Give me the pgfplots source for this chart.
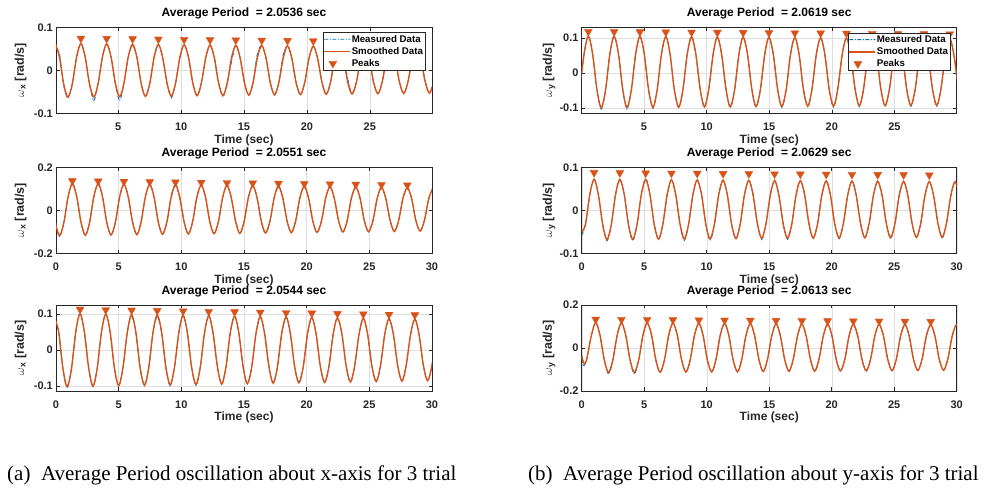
\documentclass[border=0pt]{standalone}
\usepackage{fontspec}
\setmainfont{Liberation Sans}
\newfontfamily\capfont{Liberation Serif}
\usepackage{pgfplots}
\usepackage{pgfplotstable}
\pgfplotsset{compat=1.18}
\definecolor{mblue}{rgb}{0,0.447,0.741}
\definecolor{morange}{rgb}{0.85,0.325,0.098}
\definecolor{mgray}{rgb}{0.15,0.15,0.15}

\pgfplotstableread{
t s m
-0.02 0.0630 0.0520
0.32 0.0315 0.0400
0.66 -0.0314 -0.0360
1.00 -0.0627 -0.0640
1.35 -0.0313 -0.0313
1.69 0.0312 0.0312
2.03 0.0623 0.0623
2.37 0.0311 0.0311
2.71 -0.0310 -0.0310
3.06 -0.0620 -0.0705
3.40 -0.0309 -0.0309
3.74 0.0308 0.0308
4.08 0.0617 0.0617
4.43 0.0308 0.0308
4.77 -0.0307 -0.0307
5.11 -0.0613 -0.0705
5.45 -0.0306 -0.0306
5.79 0.0305 0.0305
6.14 0.0610 0.0570
6.48 0.0305 0.0305
6.82 -0.0303 -0.0303
7.16 -0.0606 -0.0606
7.51 -0.0303 -0.0303
7.85 0.0302 0.0302
8.19 0.0603 0.0603
8.53 0.0301 0.0301
8.88 -0.0300 -0.0300
9.22 -0.0600 -0.0640
9.56 -0.0299 -0.0299
9.90 0.0298 0.0298
10.24 0.0596 0.0596
10.59 0.0298 0.0298
10.93 -0.0297 -0.0297
11.27 -0.0593 -0.0593
11.61 -0.0296 -0.0296
11.96 0.0295 0.0295
12.30 0.0589 0.0589
12.64 0.0294 0.0294
12.98 -0.0293 -0.0293
13.33 -0.0586 -0.0615
13.67 -0.0292 -0.0292
14.01 0.0292 0.0200
14.35 0.0583 0.0583
14.69 0.0291 0.0291
15.04 -0.0290 -0.0290
15.38 -0.0579 -0.0579
15.72 -0.0289 -0.0289
16.06 0.0288 0.0380
16.41 0.0576 0.0576
16.75 0.0288 0.0288
17.09 -0.0287 -0.0287
17.43 -0.0572 -0.0572
17.77 -0.0285 -0.0285
18.12 0.0285 0.0360
18.46 0.0569 0.0569
18.80 0.0284 0.0284
19.14 -0.0283 -0.0283
19.49 -0.0566 -0.0566
19.83 -0.0282 -0.0282
20.17 0.0281 0.0281
20.51 0.0562 0.0562
20.85 0.0281 0.0281
21.20 -0.0280 -0.0280
21.54 -0.0559 -0.0559
21.88 -0.0278 -0.0278
22.22 0.0278 0.0278
22.57 0.0556 0.0556
22.91 0.0277 0.0277
23.25 -0.0276 -0.0200
23.59 -0.0552 -0.0552
23.94 -0.0275 -0.0275
24.28 0.0274 0.0274
24.62 0.0549 0.0549
24.96 0.0274 0.0274
25.30 -0.0273 -0.0273
25.65 -0.0545 -0.0545
25.99 -0.0272 -0.0272
26.33 0.0271 0.0271
26.67 0.0542 0.0542
27.02 0.0271 0.0271
27.36 -0.0270 -0.0270
27.70 -0.0539 -0.0539
28.04 -0.0268 -0.0268
28.38 0.0268 0.0268
28.73 0.0535 0.0535
29.07 0.0267 0.0267
29.41 -0.0266 -0.0266
29.75 -0.0532 -0.0532
30.10 -0.0265 -0.0265
}\tabA

\pgfplotstableread{
t s m
-0.14 -0.0482 -0.0482
0.21 0.0542 0.0542
0.55 0.1054 0.1054
0.89 0.0541 0.0541
1.24 -0.0480 -0.0480
1.58 -0.0991 -0.1030
1.93 -0.0479 -0.0479
2.27 0.0540 0.0540
2.61 0.1048 0.1048
2.96 0.0538 0.0538
3.30 -0.0478 -0.0478
3.64 -0.0986 -0.1030
3.99 -0.0477 -0.0477
4.33 0.0537 0.0537
4.67 0.1043 0.1043
5.02 0.0536 0.0536
5.36 -0.0475 -0.0475
5.71 -0.0981 -0.1010
6.05 -0.0474 -0.0474
6.39 0.0534 0.0534
6.74 0.1038 0.1038
7.08 0.0533 0.0533
7.42 -0.0473 -0.0473
7.77 -0.0976 -0.1000
8.11 -0.0472 -0.0472
8.45 0.0532 0.0532
8.80 0.1033 0.1033
9.14 0.0531 0.0531
9.49 -0.0470 -0.0470
9.83 -0.0970 -0.0970
10.17 -0.0469 -0.0469
10.52 0.0529 0.0529
10.86 0.1028 0.1028
11.20 0.0528 0.0528
11.55 -0.0468 -0.0468
11.89 -0.0965 -0.0990
12.24 -0.0467 -0.0467
12.58 0.0527 0.0527
12.92 0.1023 0.1023
13.27 0.0526 0.0526
13.61 -0.0465 -0.0465
13.95 -0.0960 -0.0960
14.30 -0.0464 -0.0464
14.64 0.0524 0.0524
14.98 0.1018 0.1018
15.33 0.0523 0.0523
15.67 -0.0463 -0.0463
16.01 -0.0955 -0.0980
16.36 -0.0462 -0.0462
16.70 0.0522 0.0522
17.05 0.1012 0.1012
17.39 0.0521 0.0521
17.73 -0.0460 -0.0460
18.08 -0.0950 -0.0950
18.42 -0.0459 -0.0459
18.76 0.0519 0.0519
19.11 0.1007 0.1007
19.45 0.0518 0.0518
19.79 -0.0458 -0.0458
20.14 -0.0945 -0.0975
20.48 -0.0457 -0.0457
20.83 0.0517 0.0517
21.17 0.1002 0.1002
21.51 0.0516 0.0516
21.86 -0.0455 -0.0455
22.20 -0.0940 -0.0965
22.54 -0.0454 -0.0454
22.89 0.0514 0.0514
23.23 0.0997 0.0997
23.58 0.0513 0.0513
23.92 -0.0453 -0.0453
24.26 -0.0934 -0.0934
24.61 -0.0452 -0.0452
24.95 0.0512 0.0512
25.29 0.0992 0.0992
25.64 0.0511 0.0511
25.98 -0.0450 -0.0450
26.32 -0.0929 -0.0955
26.67 -0.0449 -0.0449
27.01 0.0509 0.0509
27.36 0.0987 0.0987
27.70 0.0508 0.0508
28.04 -0.0448 -0.0448
28.39 -0.0924 -0.0950
28.73 -0.0447 -0.0447
29.07 0.0507 0.0507
29.42 0.0981 0.0981
29.76 0.0506 0.0506
30.10 -0.0445 -0.0445
}\tabB

\pgfplotstableread{
t s m
-0.06 -0.0570 -0.0600
0.28 -0.1178 -0.1220
0.63 -0.0568 -0.0568
0.97 0.0648 0.0648
1.31 0.1250 0.1250
1.65 0.0645 0.0645
2.00 -0.0565 -0.0565
2.34 -0.1163 -0.1163
2.68 -0.0562 -0.0562
3.02 0.0642 0.0642
3.37 0.1235 0.1235
3.71 0.0638 0.0638
4.05 -0.0558 -0.0558
4.39 -0.1148 -0.1148
4.74 -0.0554 -0.0554
5.08 0.0634 0.0634
5.42 0.1220 0.1220
5.76 0.0630 0.0630
6.11 -0.0550 -0.0550
6.45 -0.1133 -0.1133
6.79 -0.0547 -0.0547
7.13 0.0627 0.0627
7.48 0.1205 0.1205
7.82 0.0623 0.0623
8.16 -0.0543 -0.0543
8.50 -0.1118 -0.1118
8.85 -0.0539 -0.0539
9.19 0.0619 0.0619
9.53 0.1190 0.1190
9.87 0.0615 0.0615
10.22 -0.0535 -0.0535
10.56 -0.1103 -0.1103
10.90 -0.0532 -0.0532
11.24 0.0612 0.0612
11.59 0.1175 0.1175
11.93 0.0608 0.0608
12.27 -0.0528 -0.0528
12.61 -0.1088 -0.1088
12.96 -0.0524 -0.0524
13.30 0.0604 0.0604
13.64 0.1160 0.1160
13.98 0.0600 0.0600
14.33 -0.0520 -0.0520
14.67 -0.1073 -0.1073
15.01 -0.0517 -0.0517
15.35 0.0597 0.0597
15.70 0.1145 0.1145
16.04 0.0593 0.0593
16.38 -0.0513 -0.0513
16.72 -0.1058 -0.1058
17.07 -0.0509 -0.0509
17.41 0.0589 0.0589
17.75 0.1130 0.1130
18.09 0.0585 0.0585
18.44 -0.0505 -0.0505
18.78 -0.1043 -0.1043
19.12 -0.0502 -0.0502
19.46 0.0582 0.0582
19.81 0.1115 0.1115
20.15 0.0578 0.0578
20.49 -0.0498 -0.0498
20.83 -0.1028 -0.1028
21.18 -0.0494 -0.0494
21.52 0.0574 0.0574
21.86 0.1100 0.1100
22.20 0.0570 0.0570
22.55 -0.0490 -0.0490
22.89 -0.1013 -0.1013
23.23 -0.0487 -0.0487
23.57 0.0567 0.0567
23.92 0.1085 0.1085
24.26 0.0563 0.0563
24.60 -0.0483 -0.0483
24.94 -0.0998 -0.0998
25.29 -0.0479 -0.0479
25.63 0.0559 0.0559
25.97 0.1070 0.1070
26.31 0.0555 0.0555
26.66 -0.0475 -0.0475
27.00 -0.0983 -0.0983
27.34 -0.0472 -0.0472
27.68 0.0552 0.0552
28.03 0.1055 0.1055
28.37 0.0548 0.0548
28.71 -0.0468 -0.0468
29.05 -0.0968 -0.0968
29.40 -0.0464 -0.0464
29.74 0.0544 0.0544
30.08 0.1040 0.1040
}\tabC

\pgfplotstableread{
t s m
0.00 -0.0500 -0.0580
0.30 -0.0330 -0.0330
0.65 0.0370 0.0370
0.99 0.0723 0.0723
1.33 0.0372 0.0372
1.68 -0.0332 -0.0332
2.02 -0.0681 -0.0710
2.37 -0.0331 -0.0331
2.71 0.0371 0.0371
3.05 0.0719 0.0719
3.40 0.0370 0.0370
3.74 -0.0330 -0.0330
4.08 -0.0677 -0.0705
4.43 -0.0329 -0.0329
4.77 0.0369 0.0369
5.12 0.0715 0.0740
5.46 0.0368 0.0368
5.80 -0.0328 -0.0328
6.15 -0.0673 -0.0673
6.49 -0.0327 -0.0327
6.84 0.0367 0.0367
7.18 0.0711 0.0711
7.52 0.0366 0.0366
7.87 -0.0326 -0.0326
8.21 -0.0669 -0.0700
8.55 -0.0325 -0.0325
8.90 0.0365 0.0365
9.24 0.0707 0.0707
9.59 0.0364 0.0364
9.93 -0.0324 -0.0324
10.27 -0.0664 -0.0700
10.62 -0.0322 -0.0322
10.96 0.0362 0.0362
11.31 0.0702 0.0702
11.65 0.0361 0.0361
11.99 -0.0321 -0.0321
12.34 -0.0660 -0.0660
12.68 -0.0320 -0.0320
13.02 0.0360 0.0360
13.37 0.0698 0.0698
13.71 0.0359 0.0359
14.06 -0.0319 -0.0319
14.40 -0.0656 -0.0680
14.74 -0.0318 -0.0318
15.09 0.0358 0.0358
15.43 0.0694 0.0694
15.77 0.0357 0.0357
16.12 -0.0317 -0.0317
16.46 -0.0652 -0.0675
16.81 -0.0316 -0.0316
17.15 0.0356 0.0356
17.49 0.0690 0.0690
17.84 0.0355 0.0355
18.18 -0.0315 -0.0315
18.52 -0.0648 -0.0648
18.87 -0.0314 -0.0314
19.21 0.0354 0.0354
19.56 0.0686 0.0686
19.90 0.0353 0.0353
20.24 -0.0313 -0.0313
20.59 -0.0644 -0.0665
20.93 -0.0312 -0.0312
21.28 0.0352 0.0352
21.62 0.0682 0.0682
21.96 0.0351 0.0351
22.31 -0.0311 -0.0311
22.65 -0.0640 -0.0640
22.99 -0.0310 -0.0310
23.34 0.0350 0.0350
23.68 0.0678 0.0678
24.03 0.0349 0.0349
24.37 -0.0309 -0.0309
24.71 -0.0636 -0.0660
25.06 -0.0308 -0.0308
25.40 0.0348 0.0348
25.75 0.0674 0.0674
26.09 0.0347 0.0347
26.43 -0.0307 -0.0307
26.78 -0.0631 -0.0631
27.12 -0.0306 -0.0306
27.46 0.0346 0.0346
27.81 0.0669 0.0669
28.15 0.0345 0.0345
28.50 -0.0305 -0.0305
28.84 -0.0627 -0.0650
29.18 -0.0304 -0.0304
29.53 0.0343 0.0343
29.87 0.0665 0.0665
30.22 0.0342 0.0342
}\tabD

\pgfplotstableread{
t s m
-0.13 0.0900 0.0900
0.21 0.0512 0.0512
0.55 -0.0511 -0.0511
0.89 -0.1020 -0.1050
1.24 -0.0509 -0.0509
1.58 0.0508 0.0508
1.92 0.1014 0.1014
2.26 0.0506 0.0506
2.61 -0.0505 -0.0505
2.95 -0.1008 -0.1008
3.29 -0.0503 -0.0503
3.63 0.0502 0.0502
3.97 0.1002 0.1002
4.32 0.0500 0.0500
4.66 -0.0499 -0.0499
5.00 -0.0996 -0.0996
5.34 -0.0497 -0.0497
5.69 0.0496 0.0496
6.03 0.0990 0.0940
6.37 0.0494 0.0494
6.71 -0.0493 -0.0493
7.06 -0.0984 -0.0984
7.40 -0.0491 -0.0491
7.74 0.0490 0.0490
8.08 0.0978 0.0930
8.43 0.0488 0.0488
8.77 -0.0487 -0.0487
9.11 -0.0972 -0.0995
9.45 -0.0485 -0.0485
9.80 0.0484 0.0484
10.14 0.0966 0.0966
10.48 0.0482 0.0482
10.82 -0.0481 -0.0481
11.17 -0.0960 -0.0985
11.51 -0.0479 -0.0479
11.85 0.0478 0.0478
12.19 0.0954 0.0954
12.53 0.0476 0.0476
12.88 -0.0475 -0.0475
13.22 -0.0948 -0.0948
13.56 -0.0473 -0.0473
13.90 0.0472 0.0472
14.25 0.0942 0.0942
14.59 0.0470 0.0470
14.93 -0.0469 -0.0469
15.27 -0.0936 -0.0936
15.62 -0.0467 -0.0467
15.96 0.0466 0.0466
16.30 0.0930 0.0930
16.64 0.0464 0.0464
16.99 -0.0463 -0.0463
17.33 -0.0924 -0.0924
17.67 -0.0461 -0.0461
18.01 0.0460 0.0460
18.36 0.0919 0.0919
18.70 0.0459 0.0459
19.04 -0.0458 -0.0458
19.38 -0.0913 -0.0913
19.73 -0.0456 -0.0456
20.07 0.0455 0.0455
20.41 0.0907 0.0907
20.75 0.0453 0.0453
21.09 -0.0452 -0.0452
21.44 -0.0901 -0.0901
21.78 -0.0450 -0.0450
22.12 0.0449 0.0449
22.46 0.0895 0.0895
22.81 0.0447 0.0447
23.15 -0.0446 -0.0446
23.49 -0.0889 -0.0889
23.83 -0.0444 -0.0444
24.18 0.0443 0.0443
24.52 0.0883 0.0883
24.86 0.0441 0.0441
25.20 -0.0440 -0.0440
25.55 -0.0877 -0.0877
25.89 -0.0438 -0.0438
26.23 0.0437 0.0437
26.57 0.0871 0.0871
26.92 0.0435 0.0435
27.26 -0.0434 -0.0434
27.60 -0.0865 -0.0865
27.94 -0.0432 -0.0432
28.29 0.0431 0.0431
28.63 0.0859 0.0859
28.97 0.0429 0.0429
29.31 -0.0428 -0.0428
29.65 -0.0853 -0.0853
30.00 -0.0426 -0.0426
30.34 0.0425 0.0425
}\tabE

\pgfplotstableread{
t s m
0.00 -0.0350 -0.0400
0.12 -0.0630 -0.0800
0.26 -0.0730 -0.0760
0.43 -0.0450 -0.0450
0.78 0.0600 0.0600
1.12 0.1186 0.1186
1.46 0.0603 0.0603
1.81 -0.0563 -0.0563
2.15 -0.1142 -0.1210
2.49 -0.0561 -0.0561
2.84 0.0601 0.0601
3.18 0.1178 0.1178
3.52 0.0599 0.0599
3.87 -0.0559 -0.0559
4.21 -0.1134 -0.1210
4.56 -0.0557 -0.0557
4.90 0.0597 0.0597
5.24 0.1170 0.1170
5.59 0.0595 0.0595
5.93 -0.0555 -0.0555
6.27 -0.1126 -0.1126
6.62 -0.0553 -0.0553
6.96 0.0593 0.0593
7.30 0.1162 0.1162
7.65 0.0591 0.0591
7.99 -0.0551 -0.0551
8.34 -0.1118 -0.1118
8.68 -0.0549 -0.0549
9.02 0.0589 0.0589
9.37 0.1154 0.1154
9.71 0.0587 0.0587
10.05 -0.0547 -0.0547
10.40 -0.1110 -0.1110
10.74 -0.0545 -0.0545
11.08 0.0585 0.0585
11.43 0.1147 0.1147
11.77 0.0583 0.0583
12.11 -0.0543 -0.0543
12.46 -0.1103 -0.1103
12.80 -0.0541 -0.0541
13.14 0.0581 0.0581
13.49 0.1139 0.1139
13.83 0.0579 0.0579
14.18 -0.0539 -0.0539
14.52 -0.1095 -0.1095
14.86 -0.0537 -0.0537
15.21 0.0577 0.0577
15.55 0.1131 0.1131
15.89 0.0575 0.0575
16.24 -0.0535 -0.0535
16.58 -0.1087 -0.1087
16.92 -0.0533 -0.0533
17.27 0.0573 0.0573
17.61 0.1123 0.1123
17.95 0.0571 0.0571
18.30 -0.0531 -0.0531
18.64 -0.1079 -0.1079
18.98 -0.0529 -0.0529
19.33 0.0569 0.0569
19.67 0.1115 0.1115
20.02 0.0567 0.0567
20.36 -0.0527 -0.0527
20.70 -0.1071 -0.1071
21.05 -0.0525 -0.0525
21.39 0.0565 0.0565
21.73 0.1107 0.1107
22.08 0.0563 0.0563
22.42 -0.0523 -0.0523
22.76 -0.1064 -0.1064
23.11 -0.0521 -0.0521
23.45 0.0561 0.0561
23.79 0.1100 0.1100
24.14 0.0560 0.0560
24.48 -0.0520 -0.0520
24.83 -0.1056 -0.1056
25.17 -0.0518 -0.0518
25.51 0.0558 0.0558
25.86 0.1092 0.1092
26.20 0.0556 0.0556
26.54 -0.0516 -0.0516
26.89 -0.1048 -0.1048
27.23 -0.0514 -0.0514
27.57 0.0554 0.0554
27.92 0.1084 0.1084
28.26 0.0552 0.0552
28.60 -0.0512 -0.0512
28.95 -0.1040 -0.1040
29.29 -0.0510 -0.0510
29.64 0.0550 0.0550
29.98 0.1076 0.1076
30.32 0.0548 0.0548
}\tabF

\pgfplotsset{
  mat/.style={
    scale only axis, width=376pt, height=86pt,
    axis line style={draw=mgray, line width=0.5pt},
    tick style={draw=mgray, line width=0.5pt},
    major tick length=3.5pt,
    tick align=inside,
    xmajorgrids, ymajorgrids,
    major grid style={draw=black!13, line width=0.4pt},
    ticklabel style={font=\bfseries\fontsize{11}{13}\selectfont, text=mgray},
    xticklabel style={anchor=base, inner sep=0pt, yshift=-17.6pt},
    yticklabel style={anchor=east, inner sep=0pt, xshift=-3pt},
    xlabel={Time (sec)},
    xlabel style={font=\bfseries\fontsize{12}{14}\selectfont, text=mgray, at={(axis description cs:0.5,0)}, anchor=base, yshift=-29.8pt},
    title style={font=\bfseries\fontsize{12}{14}\selectfont, text=black, at={(axis description cs:0.5,1)}, anchor=base, yshift=4.7pt},
    ylabel style={font=\bfseries\fontsize{12.5}{14}\selectfont, text=mgray, anchor=center},
    legend style={fill=white, draw=mgray, font=\bfseries\fontsize{9.7}{11}\selectfont, inner sep=1pt, row sep=0.6pt, nodes={inner sep=1.5pt}},
    legend cell align=left,
  },
  measleg/.style={legend image code/.code={%
    \pgfsetfillcolor{mblue}%
    \pgfpathrectangle{\pgfqpoint{0pt}{-0.45pt}}{\pgfqpoint{4pt}{0.9pt}}%
    \pgfpathrectangle{\pgfqpoint{5.5pt}{-0.45pt}}{\pgfqpoint{1pt}{0.9pt}}%
    \pgfpathrectangle{\pgfqpoint{8pt}{-0.45pt}}{\pgfqpoint{4pt}{0.9pt}}%
    \pgfpathrectangle{\pgfqpoint{13.5pt}{-0.45pt}}{\pgfqpoint{1pt}{0.9pt}}%
    \pgfpathrectangle{\pgfqpoint{16pt}{-0.45pt}}{\pgfqpoint{4pt}{0.9pt}}%
    \pgfpathrectangle{\pgfqpoint{21.5pt}{-0.45pt}}{\pgfqpoint{1pt}{0.9pt}}%
    \pgfpathrectangle{\pgfqpoint{24pt}{-0.45pt}}{\pgfqpoint{2pt}{0.9pt}}%
    \pgfusepath{fill}}},
  smoleg/.style={legend image code/.code={%
    \pgfsetfillcolor{morange}%
    \pgfpathrectangle{\pgfqpoint{0pt}{-0.7pt}}{\pgfqpoint{26pt}{1.4pt}}%
    \pgfusepath{fill}}},
}

\begin{document}
\begin{tikzpicture}
\path[use as bounding box] (0pt,0pt) rectangle (989pt,489pt);

% top-left
\begin{axis}[mat, at={(56pt,375.7pt)}, anchor=south west,
  xmin=0.05, xmax=29.95, ymin=-0.1, ymax=0.1,
  xtick={5,10,15,20,25}, xticklabels={5,10,15,20,25},
  ytick={-0.1,0,0.1}, yticklabels={-0.1,0,0.1},
  title={Average Period\ \ = 2.0536 sec},
  ylabel={$\omega$\textsubscript{x} [rad/s]}, ylabel style={at={(axis description cs:-0.094,0.5)}},
  legend style={at={(axis description cs:0.983,0.942)}, anchor=north east}]
\addplot[color=mblue, line width=0.9pt, dash pattern=on 4pt off 1.5pt on 1pt off 1.5pt, smooth, measleg] table[x=t,y=m]{\tabA};
\addlegendentry{Measured Data}
\addplot[color=morange, line width=1.4pt, smooth, smoleg] table[x=t,y=s]{\tabA};
\addlegendentry{Smoothed Data}
\addplot[color=morange, only marks, mark=triangle*, mark size=4.5pt, mark options={rotate=180, fill=morange, solid}] coordinates {(2.03,0.0743) (4.08,0.0737) (6.14,0.0730) (8.19,0.0723) (10.24,0.0716) (12.30,0.0709) (14.35,0.0703) (16.41,0.0696) (18.46,0.0689) (20.51,0.0682) (22.57,0.0676) (24.62,0.0669) (26.67,0.0662) (28.73,0.0655)};
\addlegendentry{Peaks}
\end{axis}

% top-right
\begin{axis}[mat, at={(581.7pt,375.7pt)}, anchor=south west, width=375pt,
  xmin=0.02, xmax=29.98, ymin=-0.115, ymax=0.13,
  xtick={5,10,15,20,25}, xticklabels={5,10,15,20,25},
  ytick={-0.1,0,0.1}, yticklabels={-0.1,0,0.1},
  title={Average Period\ \ = 2.0619 sec},
  ylabel={$\omega$\textsubscript{y} [rad/s]}, ylabel style={at={(axis description cs:-0.087,0.5)}},
  legend style={at={(axis description cs:0.984,0.937)}, anchor=north east}]
\addplot[color=mblue, line width=0.9pt, dash pattern=on 4pt off 1.5pt on 1pt off 1.5pt, smooth, measleg] table[x=t,y=m]{\tabB};
\addlegendentry{Measured Data}
\addplot[color=morange, line width=1.4pt, smooth, smoleg] table[x=t,y=s]{\tabB};
\addlegendentry{Smoothed Data}
\addplot[color=morange, only marks, mark=triangle*, mark size=4.5pt, mark options={rotate=180, fill=morange, solid}] coordinates {(0.55,0.1179) (2.61,0.1173) (4.67,0.1168) (6.74,0.1163) (8.80,0.1158) (10.86,0.1153) (12.92,0.1148) (14.98,0.1143) (17.05,0.1137) (19.11,0.1132) (21.17,0.1127) (23.23,0.1122) (25.29,0.1117) (27.36,0.1112) (29.42,0.1106)};
\addlegendentry{Peaks}
\end{axis}

% middle-left
\begin{axis}[mat, at={(56pt,235.7pt)}, anchor=south west,
  xmin=0, xmax=30, ymin=-0.2, ymax=0.2,
  xtick={0,5,10,15,20,25,30}, xticklabels={0,5,10,15,20,25,30},
  ytick={-0.2,0,0.2}, yticklabels={-0.2,0,0.2},
  title={Average Period\ \ = 2.0551 sec},
  ylabel={$\omega$\textsubscript{x} [rad/s]}, ylabel style={at={(axis description cs:-0.094,0.5)}}]
\addplot[color=mblue, line width=0.9pt, dash pattern=on 4pt off 1.5pt on 1pt off 1.5pt, smooth] table[x=t,y=m]{\tabC};
\addplot[color=morange, line width=1.4pt, smooth] table[x=t,y=s]{\tabC};
\addplot[color=morange, only marks, mark=triangle*, mark size=4.5pt, mark options={rotate=180, fill=morange, solid}] coordinates {(1.31,0.1370) (3.37,0.1355) (5.42,0.1340) (7.48,0.1325) (9.53,0.1310) (11.59,0.1295) (13.64,0.1280) (15.70,0.1265) (17.75,0.1250) (19.81,0.1235) (21.86,0.1220) (23.92,0.1205) (25.97,0.1190) (28.03,0.1175)};
\end{axis}

% middle-right
\begin{axis}[mat, at={(581.7pt,235.7pt)}, anchor=south west, width=375pt,
  xmin=0, xmax=30, ymin=-0.1, ymax=0.1,
  xtick={0,5,10,15,20,25,30}, xticklabels={0,5,10,15,20,25,30},
  ytick={-0.1,0,0.1}, yticklabels={-0.1,0,0.1},
  title={Average Period\ \ = 2.0629 sec},
  ylabel={$\omega$\textsubscript{y} [rad/s]}, ylabel style={at={(axis description cs:-0.087,0.5)}}]
\addplot[color=mblue, line width=0.9pt, dash pattern=on 4pt off 1.5pt on 1pt off 1.5pt, smooth] table[x=t,y=m]{\tabD};
\addplot[color=morange, line width=1.4pt, smooth] table[x=t,y=s]{\tabD};
\addplot[color=morange, only marks, mark=triangle*, mark size=4.5pt, mark options={rotate=180, fill=morange, solid}] coordinates {(0.99,0.0875) (3.05,0.0869) (5.12,0.0865) (7.18,0.0861) (9.24,0.0857) (11.31,0.0852) (13.37,0.0848) (15.43,0.0844) (17.49,0.0840) (19.56,0.0836) (21.62,0.0832) (23.68,0.0828) (25.75,0.0824) (27.81,0.0819)};
\end{axis}

% bottom-left
\begin{axis}[mat, at={(56pt,98pt)}, anchor=south west,
  xmin=0, xmax=30, ymin=-0.114, ymax=0.125,
  xtick={0,5,10,15,20,25,30}, xticklabels={0,5,10,15,20,25,30},
  ytick={-0.1,0,0.1}, yticklabels={-0.1,0,0.1},
  title={Average Period\ \ = 2.0544 sec},
  ylabel={$\omega$\textsubscript{x} [rad/s]}, ylabel style={at={(axis description cs:-0.094,0.5)}}]
\addplot[color=mblue, line width=0.9pt, dash pattern=on 4pt off 1.5pt on 1pt off 1.5pt, smooth] table[x=t,y=m]{\tabE};
\addplot[color=morange, line width=1.4pt, smooth] table[x=t,y=s]{\tabE};
\addplot[color=morange, only marks, mark=triangle*, mark size=4.5pt, mark options={rotate=180, fill=morange, solid}] coordinates {(1.92,0.1129) (3.97,0.1117) (6.03,0.1105) (8.08,0.1093) (10.14,0.1081) (12.19,0.1069) (14.25,0.1057) (16.30,0.1045) (18.36,0.1034) (20.41,0.1022) (22.46,0.1010) (24.52,0.0998) (26.57,0.0986) (28.63,0.0974)};
\end{axis}

% bottom-right
\begin{axis}[mat, at={(581.7pt,98pt)}, anchor=south west, width=375pt,
  xmin=0, xmax=30, ymin=-0.2, ymax=0.2,
  xtick={0,5,10,15,20,25,30}, xticklabels={0,5,10,15,20,25,30},
  ytick={-0.2,0,0.2}, yticklabels={-0.2,0,0.2},
  title={Average Period\ \ = 2.0613 sec},
  ylabel={$\omega$\textsubscript{y} [rad/s]}, ylabel style={at={(axis description cs:-0.087,0.5)}}]
\addplot[color=mblue, line width=0.9pt, dash pattern=on 4pt off 1.5pt on 1pt off 1.5pt, smooth] table[x=t,y=m]{\tabF};
\addplot[color=morange, line width=1.4pt, smooth] table[x=t,y=s]{\tabF};
\addplot[color=morange, only marks, mark=triangle*, mark size=4.5pt, mark options={rotate=180, fill=morange, solid}] coordinates {(1.12,0.1331) (3.18,0.1323) (5.24,0.1315) (7.30,0.1307) (9.37,0.1299) (11.43,0.1292) (13.49,0.1284) (15.55,0.1276) (17.61,0.1268) (19.67,0.1260) (21.73,0.1252) (23.79,0.1245) (25.86,0.1237) (27.92,0.1229)};
\end{axis}

\node[anchor=base west, inner sep=0pt, font=\capfont\fontsize{21}{24}\selectfont] at (7pt,8pt) {(a)\hspace{0.5em}Average Period oscillation about x-axis for 3 trial};
\node[anchor=base west, inner sep=0pt, font=\capfont\fontsize{21}{24}\selectfont] at (528pt,8pt) {(b)\hspace{0.5em}Average Period oscillation about y-axis for 3 trial};
\end{tikzpicture}
\end{document}
